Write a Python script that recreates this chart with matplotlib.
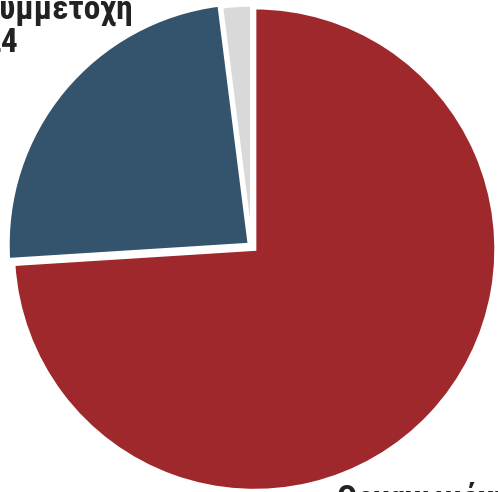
import matplotlib
matplotlib.use("Agg")
import matplotlib.pyplot as plt

labels = ["Οργανωμένη συμμετοχή", "Μερική συμμετοχή", "Άλλο"]
values = [74, 24, 2]
colors = ["#9F282C", "#34546E", "#D9D9D9"]

plt.rcParams['font.family'] = ['Roboto Condensed', 'Liberation Sans', 'DejaVu Sans']

W, H = 498, 492
fig = plt.figure(figsize=(W / 100, H / 100), dpi=100)
ax = fig.add_axes([0, 0, 1, 1])

# explode offsets are in data units (pixels here)
ax.pie(values, colors=colors, startangle=90, counterclock=False,
       radius=241.4, center=(251.7, H - 246.4), explode=[4, 3, 0],
       wedgeprops=dict(edgecolor="white", linewidth=2.5), frame=True)
ax.set_xlim(0, W)
ax.set_ylim(0, H)
ax.set_aspect("equal")
ax.axis("off")

txt_kw = dict(fontsize=24, fontweight="bold", color="#222222",
              linespacing=1.05, clip_on=False)
ax.text(2, H - 52, f"{labels[1]}\n{values[1]}", ha="center", va="baseline",
        multialignment="center", **txt_kw)
ax.text(337, H - 542, f"{labels[0]}\n{values[0]}", ha="left", va="baseline",
        multialignment="center", **txt_kw)

fig.savefig("out.png", dpi=100)
